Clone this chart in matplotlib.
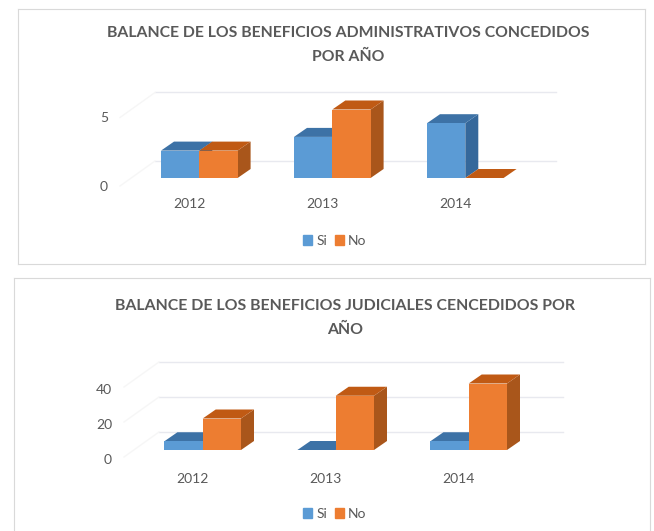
import matplotlib
matplotlib.use('Agg')
import matplotlib.pyplot as plt
from matplotlib.patches import Patch, Polygon

plt.rcParams['font.family'] = ['Lato', 'DejaVu Sans']

years = ['2012', '2013', '2014']
series_names = ['Si', 'No']

title_1 = 'BALANCE DE LOS BENEFICIOS ADMINISTRATIVOS CONCEDIDOS\nPOR AÑO'
si_1 = [2, 3, 4]
no_1 = [2, 5, 0]
ticks_1 = [0, 5]

title_2 = 'BALANCE DE LOS BENEFICIOS JUDICIALES CENCEDIDOS POR\nAÑO'
si_2 = [5, 0, 5]
no_2 = [18, 31, 38]
ticks_2 = [0, 20, 40]

W, H = 654, 531
BLUE = ('#5b9bd5', '#3d72a6', '#35689b')
ORANGE = ('#ed7d31', '#c05a14', '#a9561b')
TEXT = '#595959'


def bar_3d(ax, x, val, colors, width, base, dx, dy):
    # side and top faces, then the front through ax.bar
    side = [(x + width / 2, base), (x + width / 2 + dx, base + dy),
            (x + width / 2 + dx, base + val + dy), (x + width / 2, base + val)]
    top = [(x - width / 2, base + val), (x + width / 2, base + val),
           (x + width / 2 + dx, base + val + dy), (x - width / 2 + dx, base + val + dy)]
    ax.add_patch(Polygon(side, color=colors[2], lw=0))
    ax.add_patch(Polygon(top, color=colors[1], lw=0))
    ax.bar(x, val, width, bottom=base, color=colors[0], lw=0)


def draw_chart(frame, title, title_xy, si, no, ticks, sx, x0, y0, bar_top, grid_x, leg_y, label_x, year_y, label_shift, tsize, spacing):
    # frame is left, top, right, bottom in pixels, sx is pixels per value
    l, t, r, b = frame
    ax = plt.axes([l / W, 1 - b / H, (r - l) / W, (b - t) / H])
    step = 133.0
    px = 1 / step
    py = 1 / sx
    ax.set_xlim((l - x0) * px, (r - x0) * px)
    ax.set_ylim((y0 - b) * py, (y0 - t) * py)
    ax.set_xticks([])
    ax.set_yticks([])
    for s in ax.spines.values():
        s.set_color('#d9d9d9')
        s.set_linewidth(0.8)

    # back wall gridlines and faint side wall
    wall_dx, wall_dy = 35 * px, 25 * py
    wall_x = (label_x + 12 - x0) * px
    for v in ticks:
        ax.plot([wall_x + wall_dx, grid_x * px - x0 * px], [v + wall_dy, v + wall_dy],
                color='#e8e9ef', lw=1, zorder=1)
        ax.plot([wall_x, wall_x + wall_dx], [v, v + wall_dy], color='#f6f6f6', lw=1, zorder=1)
        ax.text((label_x - x0) * px, v - label_shift * py, str(v), ha='right', va='center', color=TEXT, fontsize=10)

    width = 38.3 * px
    base = bar_top * py
    for i in range(len(years)):
        bar_3d(ax, i - width / 2, si[i], BLUE, width, base, 13 * px, 9 * py)
        bar_3d(ax, i + width / 2, no[i], ORANGE, width, base, 13 * px, 9 * py)
        ax.text(i - 10 * px, (y0 - year_y) * py, years[i], ha='center', va='center', color=TEXT, fontsize=10)

    ax.text((title_xy[0] - x0) * px, (y0 - title_xy[1]) * py, title, ha='center', va='center',
            color=TEXT, fontsize=tsize, fontweight='bold', linespacing=spacing)
    handles = [Patch(color=BLUE[0], label=series_names[0]), Patch(color=ORANGE[0], label=series_names[1])]
    ax.legend(handles=handles, ncol=2, loc='center', frameon=False, fontsize=10, labelcolor=TEXT,
              bbox_to_anchor=((335 - l) / (r - l), (b - leg_y) / (b - t)),
              handlelength=0.65, handleheight=0.65, handletextpad=0.3, columnspacing=0.55)


fig = plt.figure(figsize=(W / 100, H / 100), dpi=100)
draw_chart((18, 9, 645, 264), title_1, (348, 45), si_1, no_1, ticks_1, 13.7, 199.3, 186, 8, 556, 241, 108, 204, 1, 11.35, 1.85)
draw_chart((14, 278, 650, 540), title_2, (345, 318), si_2, no_2, ticks_2, 1.75, 202.7, 457, 7, 563, 514, 112, 479, 3, 11.4, 1.8)
fig.savefig('out.png', dpi=100)
